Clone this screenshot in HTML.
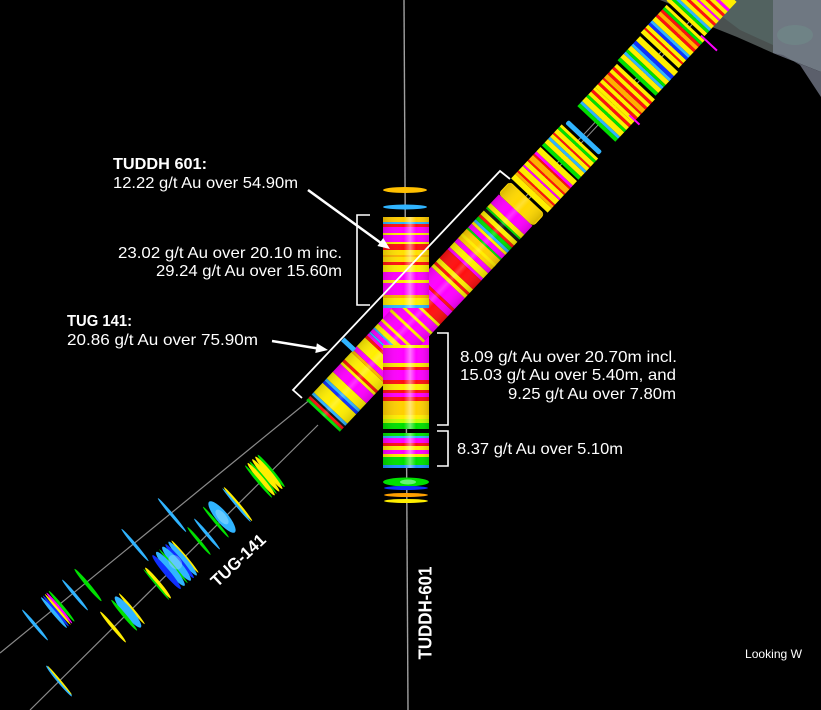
<!DOCTYPE html>
<html><head><meta charset="utf-8"><style>
html,body{margin:0;padding:0;background:#000;}
svg{display:block;}
text{font-family:"Liberation Sans",sans-serif;fill:#fff;}
</style></head><body>
<svg width="821" height="710" viewBox="0 0 821 710" xmlns="http://www.w3.org/2000/svg">
<defs>
<linearGradient id="vhl" x1="383" y1="0" x2="429" y2="0" gradientUnits="userSpaceOnUse">
<stop offset="0" stop-color="#000" stop-opacity="0.15"/>
<stop offset="0.45" stop-color="#fff" stop-opacity="0"/>
<stop offset="0.59" stop-color="#fff" stop-opacity="0.45"/>
<stop offset="0.72" stop-color="#fff" stop-opacity="0"/>
<stop offset="1" stop-color="#000" stop-opacity="0.15"/>
</linearGradient>
<linearGradient id="dhl" x1="0" y1="-23" x2="0" y2="23" gradientUnits="userSpaceOnUse">
<stop offset="0" stop-color="#000" stop-opacity="0.15"/>
<stop offset="0.4" stop-color="#fff" stop-opacity="0"/>
<stop offset="0.5" stop-color="#fff" stop-opacity="0.2"/>
<stop offset="0.6" stop-color="#fff" stop-opacity="0"/>
<stop offset="1" stop-color="#000" stop-opacity="0.15"/>
</linearGradient>
</defs>
<rect width="821" height="710" fill="#000"/>

<!-- gray shape top right -->
<polygon points="660,0 773,0 773,53 737,37 707,25 685,10" fill="#4a5150"/>
<polygon points="700,0 773,0 773,45 740,30" fill="#566a66" opacity="0.7"/>
<polygon points="773,0 821,0 821,72 773,53" fill="#6f7882"/>
<ellipse cx="795" cy="35" rx="18" ry="10" fill="#6f8a88" opacity="0.6"/>
<polygon points="773,53 821,72 821,97 800,65 783,55" fill="#5b5f6b"/>

<!-- drill traces -->
<line x1="404" y1="0" x2="408" y2="710" stroke="#a0a0a0" stroke-width="1.4"/>
<line x1="312" y1="398" x2="0" y2="653" stroke="#8a8a8a" stroke-width="1.2"/>
<line x1="318" y1="425" x2="30" y2="710" stroke="#8a8a8a" stroke-width="1.2"/>

<!-- vertical cylinder base (under diagonal) -->
<rect x="383" y="305" width="46" height="42" fill="#ff00ff"/>

<!-- diagonal hole -->
<g transform="translate(323,416) rotate(-46.9)">
<line x1="280" y1="-2" x2="620" y2="-2" stroke="#909090" stroke-width="1"/>
<line x1="280" y1="2" x2="620" y2="2" stroke="#909090" stroke-width="1"/>
<g>
<rect x="0" y="-23" width="3" height="46" fill="#00e000"/>
<rect x="3" y="-23" width="3" height="46" fill="#ff1010"/>
<rect x="6" y="-23" width="2" height="46" fill="#111"/>
<rect x="8" y="-23" width="3" height="46" fill="#30b4ff"/>
<rect x="11" y="-23" width="13" height="46" fill="#ffee00"/>
<rect x="24" y="-23" width="3" height="46" fill="#1030ff"/>
<rect x="27" y="-23" width="3" height="46" fill="#30b4ff"/>
<rect x="30" y="-23" width="9" height="46" fill="#ffee00"/>
<rect x="39" y="-23" width="11" height="46" fill="#ff00ff"/>
<rect x="50" y="-23" width="3" height="46" fill="#ffee00"/>
<rect x="53" y="-23" width="3" height="46" fill="#ff1010"/>
<rect x="56" y="-23" width="10" height="46" fill="#ffee00"/>
<rect x="66" y="-23" width="3" height="46" fill="#ffb000"/>
<rect x="69" y="-23" width="5" height="46" fill="#ff00ff"/>
<rect x="74" y="-23" width="12" height="46" fill="#ffee00"/>
<rect x="86" y="-23" width="3" height="46" fill="#ff1010"/>
<rect x="89" y="-23" width="3" height="46" fill="#ff00ff"/>
<rect x="92" y="-23" width="2" height="46" fill="#30b4ff"/>
<rect x="94" y="-23" width="4" height="46" fill="#ff00ff"/>
<rect x="98" y="-23" width="2" height="46" fill="#30b4ff"/>
<rect x="100" y="-23" width="5" height="46" fill="#ffee00"/>
<rect x="105" y="-23" width="4" height="46" fill="#ff00ff"/>
<rect x="109" y="-23" width="3" height="46" fill="#ffee00"/>
<rect x="112" y="-23" width="10" height="46" fill="#ff00ff"/>
<rect x="122" y="-23" width="3" height="46" fill="#ffee00"/>
<rect x="125" y="-23" width="8" height="46" fill="#ff00ff"/>
<rect x="133" y="-23" width="3" height="46" fill="#ffee00"/>
<rect x="136" y="-23" width="8" height="46" fill="#ff00ff"/>
<rect x="144" y="-23" width="3" height="46" fill="#ffee00"/>
<rect x="147" y="-23" width="11" height="46" fill="#ff1010"/>
<rect x="158" y="-23" width="7" height="46" fill="#ff00ff"/>
<rect x="165" y="-23" width="3" height="46" fill="#ff1010"/>
<rect x="168" y="-23" width="15" height="46" fill="#ff00ff"/>
<rect x="183" y="-23" width="4" height="46" fill="#ffee00"/>
<rect x="187" y="-23" width="3" height="46" fill="#ff1010"/>
<rect x="190" y="-23" width="5" height="46" fill="#ffee00"/>
<rect x="195" y="-23" width="12" height="46" fill="#ff1010"/>
<rect x="207" y="-23" width="3" height="46" fill="#ff00ff"/>
<rect x="210" y="-23" width="7" height="46" fill="#ffee00"/>
<rect x="217" y="-23" width="5" height="46" fill="#ff00ff"/>
<rect x="222" y="-23" width="13" height="46" fill="#ffd000"/>
<rect x="226" y="-23" width="3" height="46" fill="#ffee00"/>
<rect x="235" y="-23" width="2" height="46" fill="#00e000"/>
<rect x="237" y="-23" width="5" height="46" fill="#ff00ff"/>
<rect x="242" y="-23" width="3" height="46" fill="#ffee00"/>
<rect x="245" y="-23" width="3" height="46" fill="#30b4ff"/>
<rect x="248" y="-23" width="4" height="46" fill="#00e000"/>
<rect x="252" y="-23" width="3" height="46" fill="#ff1010"/>
<rect x="255" y="-23" width="5" height="46" fill="#ffee00"/>
<rect x="260" y="-23" width="3" height="46" fill="#111"/>
<rect x="263" y="-23" width="2" height="46" fill="#00e000"/>
<rect x="265" y="-23" width="5" height="46" fill="#ffee00"/>
<rect x="270" y="-23" width="12" height="46" fill="#ff00ff"/>
<rect x="282" y="-24" width="17" height="48" rx="4" fill="#ffd800"/>
</g>
<rect x="0" y="-23" width="298" height="46" fill="url(#dhl)"/>
<rect x="67" y="-38" width="5" height="16" fill="#30b4ff"/>

<!-- upper groups -->
<g>
<rect x="302" y="-25" width="6" height="50" fill="#ffee00"/>
<rect x="308" y="-25" width="3" height="50" fill="#ffb000"/>
<rect x="311" y="-25" width="2" height="50" fill="#ff1010"/>
<rect x="313" y="-25" width="6" height="50" fill="#ffee00"/>
<rect x="319" y="-25" width="2" height="50" fill="#ff00ff"/>
<rect x="321" y="-25" width="5" height="50" fill="#ffee00"/>
<rect x="326" y="-25" width="2" height="50" fill="#ff1010"/>
<rect x="328" y="-25" width="6" height="50" fill="#ffb000"/>
<rect x="334" y="-25" width="2" height="50" fill="#ff1010"/>
<rect x="336" y="-25" width="3" height="50" fill="#ff00ff"/>
<rect x="339" y="-25" width="6" height="50" fill="#ffee00"/>

<rect x="347" y="-25" width="4" height="50" fill="#00e000"/>
<rect x="351" y="-25" width="5" height="50" fill="#ffee00"/>
<rect x="356" y="-25" width="3" height="50" fill="#30b4ff"/>
<rect x="359" y="-25" width="4" height="50" fill="#ffee00"/>
<rect x="363" y="-25" width="2" height="50" fill="#ff1010"/>
<rect x="365" y="-25" width="5" height="50" fill="#ffee00"/>
<rect x="370" y="-25" width="3" height="50" fill="#00e000"/>
<rect x="373" y="-25" width="3" height="50" fill="#ffee00"/>

<rect x="379" y="-23" width="5" height="46" rx="2" fill="#30b4ff"/>

<rect x="400" y="-26" width="4" height="52" fill="#00e000"/>
<rect x="404" y="-26" width="3" height="52" fill="#30b4ff"/>
<rect x="407" y="-26" width="6" height="52" fill="#ffee00"/>
<rect x="413" y="-26" width="3" height="52" fill="#00e000"/>
<rect x="416" y="-26" width="4" height="52" fill="#ffee00"/>
<rect x="420" y="-26" width="3" height="52" fill="#ff1010"/>
<rect x="423" y="-26" width="3" height="52" fill="#ffee00"/>
<rect x="426" y="-26" width="4" height="52" fill="#ffee00"/>
<rect x="430" y="-26" width="3" height="52" fill="#ff1010"/>
<rect x="433" y="-26" width="4" height="52" fill="#ffee00"/>
<rect x="437" y="-26" width="2" height="52" fill="#ff1010"/>
<rect x="439" y="-26" width="5" height="52" fill="#ffb000"/>
<rect x="444" y="-26" width="3" height="52" fill="#ff1010"/>
<rect x="447" y="-26" width="4" height="52" fill="#ffee00"/>
<rect x="451" y="-26" width="3" height="52" fill="#ff1010"/>
<rect x="454" y="-26" width="4" height="52" fill="#ffee00"/>
<rect x="428" y="18" width="2" height="14" fill="#ff00ff"/>
</g>
<g transform="translate(0,-2)">
<rect x="461" y="-26" width="4" height="52" fill="#00e000"/>
<rect x="465" y="-26" width="5" height="52" fill="#ffee00"/>
<rect x="470" y="-26" width="3" height="52" fill="#30b4ff"/>
<rect x="473" y="-26" width="3" height="52" fill="#00e000"/>
<rect x="476" y="-26" width="5" height="52" fill="#ffee00"/>
<rect x="481" y="-26" width="3" height="52" fill="#30b4ff"/>
<rect x="484" y="-26" width="4" height="52" fill="#1030ff"/>
<rect x="488" y="-26" width="6" height="52" fill="#ffee00"/>
</g>
<g transform="translate(0,-4)">
<rect x="497" y="-26" width="5" height="52" fill="#ffee00"/>
<rect x="502" y="-26" width="2" height="52" fill="#ff1010"/>
<rect x="504" y="-26" width="4" height="52" fill="#ffee00"/>
<rect x="508" y="-26" width="3" height="52" fill="#1030ff"/>
<rect x="511" y="-26" width="3" height="52" fill="#30b4ff"/>
<rect x="514" y="-26" width="5" height="52" fill="#ffee00"/>
<rect x="519" y="-26" width="3" height="52" fill="#ff1010"/>
<rect x="522" y="-26" width="4" height="52" fill="#ffb000"/>
<rect x="526" y="-26" width="3" height="52" fill="#ff1010"/>
<rect x="529" y="-26" width="3" height="52" fill="#00e000"/>
<rect x="532" y="-26" width="3" height="52" fill="#ffee00"/>
<rect x="535" y="20" width="2" height="22" fill="#ff00ff"/>
</g>
<g transform="translate(0,-7)">
<rect x="538" y="-26" width="4" height="52" fill="#ffee00"/>
<rect x="542" y="-26" width="3" height="52" fill="#00e000"/>
<rect x="545" y="-26" width="3" height="52" fill="#30b4ff"/>
<rect x="548" y="-26" width="4" height="52" fill="#ffee00"/>
<rect x="552" y="-26" width="3" height="52" fill="#ff1010"/>
<rect x="555" y="-26" width="4" height="52" fill="#ffee00"/>
<rect x="559" y="-26" width="2" height="52" fill="#ff00ff"/>
<rect x="561" y="-26" width="4" height="52" fill="#ffee00"/>
<rect x="565" y="-26" width="3" height="52" fill="#ff1010"/>
<rect x="568" y="-26" width="4" height="52" fill="#ffee00"/>
<rect x="572" y="-26" width="3" height="52" fill="#ff00ff"/>
<rect x="575" y="-26" width="10" height="52" fill="#ffee00"/>
</g>
</g>

<!-- vertical cylinder pieces (on top) -->
<ellipse cx="405" cy="190" rx="22" ry="3" fill="#ffc000"/>
<ellipse cx="405" cy="207" rx="22" ry="2.5" fill="#30b4ff"/>
<g>
<rect x="383" y="217" width="46" height="5" fill="#ffcc00"/>
<rect x="383" y="222" width="46" height="2" fill="#30b4ff"/>
<rect x="383" y="224" width="46" height="3" fill="#ff1010"/>
<rect x="383" y="227" width="46" height="15" fill="#ff00ff"/>
<rect x="383" y="233" width="46" height="2" fill="#ffee00"/>
<rect x="383" y="242" width="46" height="2" fill="#ffee00"/>
<rect x="383" y="244" width="46" height="6" fill="#ff1010"/>
<rect x="383" y="250" width="46" height="12" fill="#ffe000"/>
<rect x="383" y="255" width="46" height="2" fill="#ffb000"/>
<rect x="383" y="262" width="46" height="3" fill="#ff1010"/>
<rect x="383" y="265" width="46" height="7" fill="#ffee00"/>
<rect x="383" y="272" width="46" height="8" fill="#ff00ff"/>
<rect x="383" y="280" width="46" height="3" fill="#ffee00"/>
<rect x="383" y="283" width="46" height="12" fill="#ff00ff"/>
<rect x="383" y="295" width="46" height="3" fill="#ffb000"/>
<rect x="383" y="298" width="46" height="7" fill="#ffee00"/>
<rect x="383" y="305" width="46" height="3" fill="#30b4ff"/>
<rect x="383" y="217" width="46" height="91" fill="url(#vhl)"/>
</g>
<g>
<rect x="383" y="345" width="46" height="3" fill="#ffee00"/>
<rect x="383" y="348" width="46" height="15" fill="#ff00ff"/>
<rect x="383" y="363" width="46" height="4" fill="#ffee00"/>
<rect x="383" y="367" width="46" height="3" fill="#ff1010"/>
<rect x="383" y="370" width="46" height="10" fill="#ff00ff"/>
<rect x="383" y="380" width="46" height="4" fill="#ff1010"/>
<rect x="383" y="384" width="46" height="6" fill="#ffee00"/>
<rect x="383" y="390" width="46" height="3" fill="#ff1010"/>
<rect x="383" y="393" width="46" height="4" fill="#ff00ff"/>
<rect x="383" y="397" width="46" height="4" fill="#ff1010"/>
<rect x="383" y="401" width="46" height="14" fill="#ffd000"/>
<rect x="383" y="415" width="46" height="4" fill="#ffee00"/>
<rect x="383" y="419" width="46" height="4" fill="#c0ff00"/>
<rect x="383" y="423" width="46" height="6" fill="#00e000"/>
<rect x="383" y="345" width="46" height="84" fill="url(#vhl)"/>
</g>
<g>
<rect x="383" y="433" width="46" height="3" fill="#00e000"/>
<rect x="383" y="436" width="46" height="2" fill="#30b4ff"/>
<rect x="383" y="438" width="46" height="5" fill="#ff00ff"/>
<rect x="383" y="443" width="46" height="3" fill="#ff1010"/>
<rect x="383" y="446" width="46" height="4" fill="#ffee00"/>
<rect x="383" y="450" width="46" height="4" fill="#ff00ff"/>
<rect x="383" y="454" width="46" height="3" fill="#ffee00"/>
<rect x="383" y="457" width="46" height="8" fill="#00e000"/>
<rect x="383" y="465" width="46" height="3" fill="#2090ff"/>
<rect x="383" y="433" width="46" height="35" fill="url(#vhl)"/>
</g>
<ellipse cx="406" cy="482" rx="23" ry="4.5" fill="#00e000"/>
<ellipse cx="408" cy="482" rx="8" ry="2.5" fill="#aaffcc" opacity="0.6"/>
<ellipse cx="406" cy="488" rx="22" ry="2" fill="#1030ff"/>
<ellipse cx="406" cy="495" rx="22" ry="2" fill="#ffa000"/>
<ellipse cx="406" cy="501" rx="22" ry="2" fill="#ffee00"/>

<!-- lower-left discs -->
<g transform="translate(265,476) rotate(50)">
<ellipse cx="0" cy="-8" rx="21" ry="2" fill="#00e000"/>
<ellipse cx="0" cy="-5" rx="21" ry="2.5" fill="#ffee00"/>
<ellipse cx="0" cy="-1" rx="21" ry="2.5" fill="#ffee00"/>
<ellipse cx="0" cy="2.5" rx="21" ry="1.5" fill="#00e000"/>
<ellipse cx="0" cy="5" rx="21" ry="2.5" fill="#ffee00"/>
<ellipse cx="0" cy="8.5" rx="21" ry="1.5" fill="#00e000"/>
</g>
<g transform="translate(238,504) rotate(50)">
<ellipse cx="0" cy="0" rx="22" ry="1.6" fill="#ffee00"/>
<ellipse cx="0" cy="1.8" rx="22" ry="1.2" fill="#30b4ff"/>
</g>
<g transform="translate(222,517) rotate(50)">
<ellipse cx="0" cy="0" rx="20" ry="6" fill="#30b4ff"/>
<ellipse cx="0" cy="0" rx="9" ry="4" fill="#8ad8ff" opacity="0.6"/>
<ellipse cx="0" cy="8" rx="20" ry="1.5" fill="#00e000"/>
</g>
<g transform="translate(207,534) rotate(50)"><ellipse cx="0" cy="0" rx="20" ry="1.6" fill="#30b4ff"/></g>
<g transform="translate(199,541) rotate(50)"><ellipse cx="0" cy="0" rx="18" ry="1.6" fill="#00e000"/></g>
<g transform="translate(175,565) rotate(50)">
<ellipse cx="0" cy="-13" rx="21" ry="1.5" fill="#ffee00"/>
<ellipse cx="0" cy="-10" rx="22" ry="3" fill="#30b4ff"/>
<ellipse cx="0" cy="-6" rx="22" ry="2.5" fill="#1030ff"/>
<ellipse cx="0" cy="-2" rx="22" ry="4" fill="#30b4ff"/>
<ellipse cx="0" cy="2" rx="22" ry="1.2" fill="#00e000"/>
<ellipse cx="0" cy="6" rx="22" ry="4" fill="#30b4ff"/>
<ellipse cx="0" cy="11" rx="22" ry="3" fill="#1030ff"/>
<ellipse cx="-2" cy="-2" rx="8" ry="6" fill="#9adfff" opacity="0.45"/>
</g>
<g transform="translate(158,583) rotate(50)">
<ellipse cx="0" cy="0" rx="20" ry="2.2" fill="#ffee00"/>
<ellipse cx="0" cy="2.2" rx="20" ry="1" fill="#00e000"/>
</g>
<g transform="translate(128,612) rotate(50)">
<ellipse cx="0" cy="-5" rx="20" ry="1.5" fill="#ffee00"/>
<ellipse cx="0" cy="0" rx="20" ry="4.5" fill="#30b4ff"/>
<ellipse cx="0" cy="5" rx="20" ry="1.8" fill="#00e000"/>
</g>
<g transform="translate(113,627) rotate(50)"><ellipse cx="0" cy="0" rx="20" ry="1.8" fill="#ffee00"/></g>
<g transform="translate(59,681) rotate(50)">
<ellipse cx="0" cy="0" rx="20" ry="1.8" fill="#30b4ff"/>
<ellipse cx="0" cy="-1" rx="19" ry="0.9" fill="#ffee00"/>
</g>
<g transform="translate(172,515) rotate(50)"><ellipse cx="0" cy="0" rx="22" ry="1.6" fill="#30b4ff"/></g>
<g transform="translate(135,545) rotate(50)"><ellipse cx="0" cy="0" rx="21" ry="1.6" fill="#30b4ff"/></g>
<g transform="translate(88,585) rotate(50)"><ellipse cx="0" cy="0" rx="21" ry="2" fill="#00e000"/></g>
<g transform="translate(75,595) rotate(50)"><ellipse cx="0" cy="0" rx="20" ry="1.6" fill="#30b4ff"/></g>
<g transform="translate(57,610) rotate(50)">
<ellipse cx="0" cy="-6" rx="20" ry="1.6" fill="#00e000"/>
<ellipse cx="0" cy="-3" rx="20" ry="1.5" fill="#ff00ff"/>
<ellipse cx="0" cy="-1" rx="20" ry="1.2" fill="#ffee00"/>
<ellipse cx="0" cy="1.5" rx="20" ry="1.5" fill="#1030ff"/>
<ellipse cx="0" cy="4" rx="20" ry="1.8" fill="#30b4ff"/>
</g>
<g transform="translate(35,625) rotate(50)"><ellipse cx="0" cy="0" rx="20" ry="1.6" fill="#30b4ff"/></g>

<!-- brackets -->
<polyline points="302,398 293,390 500,171 510,179" fill="none" stroke="#fff" stroke-width="1.8"/>
<polyline points="370,215 357,215 357,305 370,305" fill="none" stroke="#fff" stroke-width="1.6"/>
<polyline points="437,333 448,333 448,425 437,425" fill="none" stroke="#fff" stroke-width="1.6"/>
<polyline points="437,431 448,431 448,466 437,466" fill="none" stroke="#fff" stroke-width="1.6"/>

<!-- arrows -->
<line x1="308" y1="190" x2="381" y2="243" stroke="#fff" stroke-width="2.6"/>
<polygon points="390,249 377.4,246 383.2,238" fill="#fff"/>
<line x1="272" y1="341" x2="318" y2="348.5" stroke="#fff" stroke-width="2.6"/>
<polygon points="328,350 315.3,353 316.9,343.2" fill="#fff"/>

<!-- text -->
<text x="113" y="169" font-size="16" font-weight="bold" textLength="94" lengthAdjust="spacingAndGlyphs">TUDDH 601:</text>
<text x="113" y="188" font-size="16" textLength="185" lengthAdjust="spacingAndGlyphs">12.22 g/t Au over 54.90m</text>
<text x="118" y="258" font-size="16" textLength="224" lengthAdjust="spacingAndGlyphs">23.02 g/t Au over 20.10 m inc.</text>
<text x="156" y="276" font-size="16" textLength="186" lengthAdjust="spacingAndGlyphs">29.24 g/t Au over 15.60m</text>
<text x="67" y="326" font-size="16" font-weight="bold" textLength="65" lengthAdjust="spacingAndGlyphs">TUG 141:</text>
<text x="67" y="345" font-size="16" textLength="191" lengthAdjust="spacingAndGlyphs">20.86 g/t Au over 75.90m</text>
<text x="460" y="362" font-size="16" textLength="217" lengthAdjust="spacingAndGlyphs">8.09 g/t Au over 20.70m incl.</text>
<text x="460" y="380" font-size="16" textLength="216" lengthAdjust="spacingAndGlyphs">15.03 g/t Au over 5.40m, and</text>
<text x="508" y="399" font-size="16" textLength="168" lengthAdjust="spacingAndGlyphs">9.25 g/t Au over 7.80m</text>
<text x="457" y="454" font-size="16" textLength="166" lengthAdjust="spacingAndGlyphs">8.37 g/t Au over 5.10m</text>
<text x="745" y="658" font-size="12" textLength="57" lengthAdjust="spacingAndGlyphs">Looking W</text>
<g transform="translate(425,613) rotate(-90)">
<text x="0" y="6.5" font-size="18" font-weight="bold" text-anchor="middle" textLength="93" lengthAdjust="spacingAndGlyphs">TUDDH-601</text>
</g>
<g transform="translate(238,560) rotate(-43)">
<text x="0" y="6" font-size="17" font-weight="bold" text-anchor="middle" textLength="68" lengthAdjust="spacingAndGlyphs">TUG-141</text>
</g>
</svg>
</body></html>
